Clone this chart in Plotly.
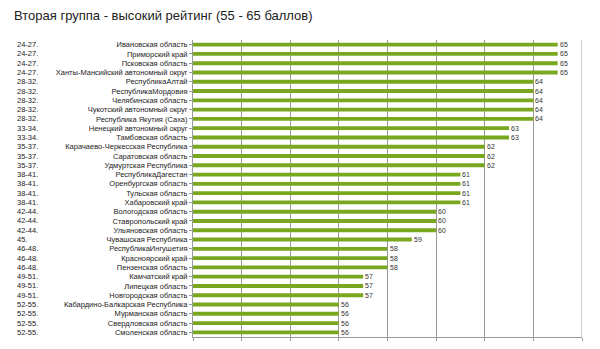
import plotly.graph_objects as go

ranks = ["24-27.", "24-27.", "24-27.", "24-27.",
         "28-32.", "28-32.", "28-32.", "28-32.", "28-32.",
         "33-34.", "33-34.",
         "35-37.", "35-37.", "35-37.",
         "38-41.", "38-41.", "38-41.", "38-41.",
         "42-44.", "42-44.", "42-44.",
         "45.",
         "46-48.", "46-48.", "46-48.",
         "49-51.", "49-51.", "49-51.",
         "52-55.", "52-55.", "52-55.", "52-55."]
regions = ["Ивановская область", "Приморский край", "Псковская область",
           "Ханты-Мансийский автономный округ",
           "РеспубликаАлтай", "РеспубликаМордовия", "Челябинская область",
           "Чукотский автономный округ", "Республика Якутия (Саха)",
           "Ненецкий автономный округ", "Тамбовская область",
           "Карачаево-Черкесская Республика", "Саратовская область",
           "Удмуртская Республика",
           "РеспубликаДагестан", "Оренбургская область", "Тульская область",
           "Хабаровский край",
           "Вологодская область", "Ставропольский край", "Ульяновская область",
           "Чувашская Республика",
           "РеспубликаИнгушетия", "Красноярский край", "Пензенская область",
           "Камчатский край", "Липецкая область", "Новгородская область",
           "Кабардино-Балкарская Республика", "Мурманская область",
           "Свердловская область", "Смоленская область"]
scores = [65, 65, 65, 65,
          64, 64, 64, 64, 64,
          63, 63,
          62, 62, 62,
          61, 61, 61, 61,
          60, 60, 60,
          59,
          58, 58, 58,
          57, 57, 57,
          56, 56, 56, 56]
x_range = [50, 66]
title = "Вторая группа - высокий рейтинг (55 - 65 баллов)"

green = "#79a81f"
grid = "#9a9a9a"
font_fam = "Arial, Liberation Sans, sans-serif"

idx = list(range(len(regions)))

fig = go.Figure()
fig.add_trace(go.Bar(
    y=idx, x=scores, orientation="h",
    marker=dict(color=green, line=dict(width=0)),
    width=0.42,
    hoverinfo="skip",
))

for i, v in enumerate(scores):
    fig.add_annotation(x=v, xref="x", y=i, yref="y", text=str(v),
                       showarrow=False, xanchor="left", yanchor="middle",
                       xshift=0,
                       font=dict(size=7, color="#333333", family=font_fam))

plot_w = 600 - 193 - 18
for i, r in enumerate(ranks):
    fig.add_annotation(x=(15 - 193) / plot_w, xref="paper", y=i, yref="y", text=r,
                       showarrow=False, xanchor="left", yanchor="middle",
                       font=dict(size=7.5, color="#222222", family=font_fam))

fig.add_shape(type="line", xref="x", yref="paper", x0=x_range[1], x1=x_range[1],
              y0=0, y1=1, line=dict(color=grid, width=1))

fig.update_layout(
    width=600, height=349,
    margin=dict(l=193, r=18, t=40, b=9),
    paper_bgcolor="white", plot_bgcolor="white",
    showlegend=False,
    title=dict(text=title, x=14 / 600, xref="container", xanchor="left",
               y=1 - 15 / 349, yref="container", yanchor="middle",
               font=dict(size=13, color="#222222", family=font_fam)),
    xaxis=dict(range=x_range, dtick=2, tick0=50, showgrid=True, gridcolor=grid,
               gridwidth=1, showticklabels=False, ticks="outside", ticklen=3,
               tickcolor=grid, showline=True, linecolor=grid, zeroline=False,
               fixedrange=True),
    yaxis=dict(tickmode="array", tickvals=idx, ticktext=regions,
               autorange=False, range=[len(idx) - 0.5, -0.5],
               tickson="boundaries", ticks="outside", ticklen=3, tickcolor=grid,
               showline=True, linecolor=grid, showgrid=False,
               tickfont=dict(size=7.5, color="#222222", family=font_fam),
               fixedrange=True),
)

fig.write_html("out.html")
